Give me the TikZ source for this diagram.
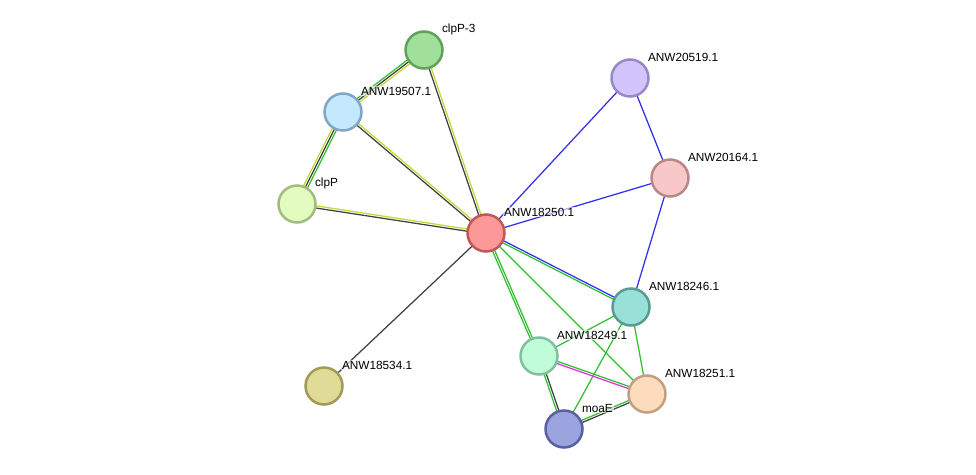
\documentclass[tikz,border=0pt]{standalone}
\usepackage{fontspec}
\setmainfont{Liberation Sans}
\usetikzlibrary{calc,backgrounds}
% evidence channel colours
\definecolor{txm}{HTML}{C4D834}
\definecolor{cox}{HTML}{404040}
\definecolor{nbh}{HTML}{30C030}
\definecolor{coc}{HTML}{3030EE}
\definecolor{exp}{HTML}{DD33DD}
% protein fills and rims
\definecolor{f1}{HTML}{A0E09A}\definecolor{r1}{HTML}{62A05C}
\definecolor{f2}{HTML}{C4E8FC}\definecolor{r2}{HTML}{80A8C4}
\definecolor{f3}{HTML}{E2FCC0}\definecolor{r3}{HTML}{A2BC80}
\definecolor{f4}{HTML}{FC9898}\definecolor{r4}{HTML}{C05858}
\definecolor{f5}{HTML}{D4C4FC}\definecolor{r5}{HTML}{9888C8}
\definecolor{f6}{HTML}{F8C8C8}\definecolor{r6}{HTML}{B88888}
\definecolor{f7}{HTML}{98E0D8}\definecolor{r7}{HTML}{5A9A94}
\definecolor{f8}{HTML}{C0FCD8}\definecolor{r8}{HTML}{80C0A0}
\definecolor{f9}{HTML}{FCDCBC}\definecolor{r9}{HTML}{C0A080}
\definecolor{f10}{HTML}{9CA4E0}\definecolor{r10}{HTML}{5860A0}
\definecolor{f11}{HTML}{E0DC98}\definecolor{r11}{HTML}{A09C58}
% one strand of a (possibly multi-strand) edge, offset sideways by #3
\newcommand{\strand}[4]{\draw[edge,#4] ($(#1.center)!#3!90:(#2.center)$) -- ($(#2.center)!#3!-90:(#1.center)$);}
\begin{document}
\begin{tikzpicture}[x=1pt,y=-1pt,
  prot/.style={circle,minimum size=37pt,inner sep=0pt,line width=2.5pt,fill=f#1,draw=r#1},
  lbl/.style={font=\fontsize{11.8}{13}\selectfont,anchor=west,inner sep=0.8pt,fill=white,fill opacity=0.6,text opacity=1},
  edge/.style={line width=1.25pt}
  ]
\useasboundingbox (0,0) rectangle (976,474);

% proteins
\node[prot=1] (clpP3) at (424,50) {};
\node[prot=2] (a19507) at (343,112) {};
\node[prot=3] (clpP) at (297,204) {};
\node[prot=4] (a18250) at (486,233) {};
\node[prot=5] (a20519) at (630,78) {};
\node[prot=6] (a20164) at (670,178) {};
\node[prot=7] (a18246) at (631,307) {};
\node[prot=8] (a18249) at (539,356) {};
\node[prot=9] (a18251) at (647,394) {};
\node[prot=10] (moaE) at (564,429) {};
\node[prot=11] (a18534) at (324,386) {};

% connectors
\begin{scope}[on background layer]
  \strand{clpP3}{a19507}{-2.2pt}{nbh}
  \strand{clpP3}{a19507}{0pt}{cox}
  \strand{clpP3}{a19507}{2.2pt}{txm}
  \strand{a19507}{clpP}{-2.2pt}{txm}
  \strand{a19507}{clpP}{0pt}{cox}
  \strand{a19507}{clpP}{2.2pt}{nbh}
  \strand{clpP3}{a18250}{-1.1pt}{cox}
  \strand{clpP3}{a18250}{1.1pt}{txm}
  \strand{a19507}{a18250}{-1.1pt}{cox}
  \strand{a19507}{a18250}{1.1pt}{txm}
  \strand{clpP}{a18250}{-1.1pt}{cox}
  \strand{clpP}{a18250}{1.1pt}{txm}
  \strand{a18250}{a18534}{0pt}{cox}
  \strand{a18250}{a20519}{0pt}{coc}
  \strand{a18250}{a20164}{0pt}{coc}
  \strand{a20519}{a20164}{0pt}{coc}
  \strand{a20164}{a18246}{0pt}{coc}
  \strand{a18250}{a18246}{1.1pt}{coc}
  \strand{a18250}{a18246}{-1.1pt}{nbh}
  \strand{a18250}{a18251}{0pt}{nbh}
  \strand{a18250}{a18249}{-1.1pt}{nbh}
  \strand{a18250}{a18249}{1.1pt}{nbh}
  \strand{a18246}{a18249}{0pt}{nbh}
  \strand{a18246}{a18251}{0pt}{nbh}
  \strand{a18246}{moaE}{0pt}{nbh}
  \strand{a18249}{a18251}{1.1pt}{nbh}
  \strand{a18249}{a18251}{-1.1pt}{exp}
  \strand{a18249}{moaE}{-1.1pt}{nbh}
  \strand{a18249}{moaE}{1.1pt}{cox}
  \strand{moaE}{a18251}{1.1pt}{nbh}
  \strand{moaE}{a18251}{-1.1pt}{cox}
\end{scope}

% labels
\foreach \n/\t in {clpP3/clpP-3, a19507/ANW19507.1, clpP/clpP, a18250/ANW18250.1,
  a20519/ANW20519.1, a20164/ANW20164.1, a18246/ANW18246.1, a18249/ANW18249.1,
  a18251/ANW18251.1, moaE/moaE, a18534/ANW18534.1}
  \node[lbl] (\n-l) at ($(\n.center)+(17,-21)$) {\t};
\end{tikzpicture}
\end{document}
